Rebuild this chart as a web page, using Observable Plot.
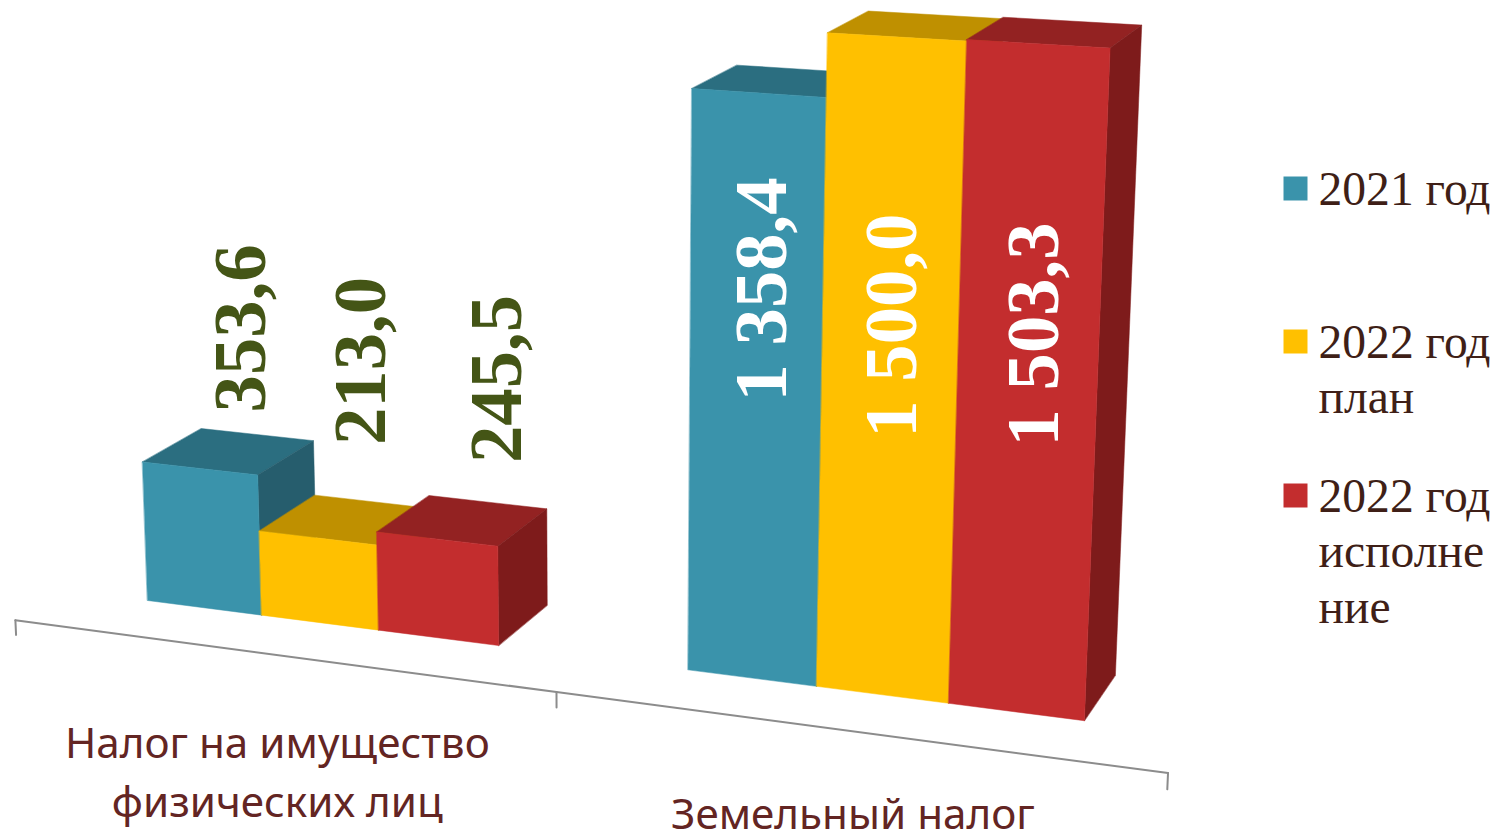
<!DOCTYPE html>
<html lang="ru">
<head>
<meta charset="utf-8">
<style>html,body{margin:0;padding:0;background:#fff;overflow:hidden}</style>
<script src="https://cdn.jsdelivr.net/npm/d3@7"></script>
<script src="https://cdn.jsdelivr.net/npm/@observablehq/plot@0.6"></script>
</head>
<body>
<div id="chart"></div>
<script>
const categories = ["Налог на имущество\nфизических лиц", "Земельный налог"];
const seriesNames = ["2021 год", "2022 год\nплан", "2022 год\nисполне\nние"];
const taxOnProperty = [353.6, 213.0, 245.5];
const landTax = [1358.4, 1500.0, 1503.3];
const frontColors = ["#3A93AB", "#FFC000", "#C32D2E"];
const topColors = ["#2B6E80", "#BF9000", "#932222"];
const sideColors = ["#265D6D", "#A68000", "#7E1B1B"];

// Perspective camera: world (slot u, value v, depth d) -> screen
const camera = {
  ox: 147, oy: 600,
  u: [110.7, 6.8, -0.01274],
  v: [605 * -3.06e-5, -0.406, -3.06e-5],
  d: [64.8, -18.9, 0.033]
};
function project(u, v, d) {
  const w = 1 + camera.u[2] * u + camera.v[2] * v + camera.d[2] * d;
  return {
    x: (camera.ox + camera.u[0] * u + camera.v[0] * v + camera.d[0] * d) / w,
    y: (camera.oy + camera.u[1] * u + camera.v[1] * v + camera.d[1] * d) / w
  };
}

const groupStart = [0, 4.525];
const axisDepth = -0.78;
const axisStart = -0.739, axisMid = 3.78, axisEnd = 8.29, tickValue = -37;
const seriesByGroup = [taxOnProperty, landTax];

const vertices = [];
function face(id, color, corners) {
  for (const [u, v, d] of corners) vertices.push({...project(u, v, d), id, color});
}
seriesByGroup.forEach((vals, g) => {
  vals.forEach((val, s) => {
    const u0 = groupStart[g] + s, u1 = u0 + 1;
    face(`t${g}${s}`, topColors[s], [[u0, val, 0], [u1, val, 0], [u1, val, 1], [u0, val, 1]]);
    face(`s${g}${s}`, sideColors[s], [[u1, 0, 0], [u1, val, 0], [u1, val, 1], [u1, 0, 1]]);
    face(`f${g}${s}`, frontColors[s], [[u0, 0, 0], [u1, 0, 0], [u1, val, 0], [u0, val, 0]]);
  });
});

const axisLine = [axisStart, axisMid, axisEnd].map(u => project(u, 0, axisDepth));
const ticks = [axisStart, axisMid, axisEnd].flatMap((u, i) => [
  {...project(u, 0, axisDepth), i},
  {...project(u, tickValue, axisDepth), i}
]);

const fmt = d3.formatLocale({decimal: ",", thousands: " ", grouping: [3], currency: ["", ""]}).format(",.1f");
const labelOffsets = [[[41.7, -140], [43.7, -177], [60, -160]], [[3.7, 196.5], [-5, 288.7], [-3.4, 290.6]]];
const labelColors = ["#445516", "#FFFFFF"];
const labelMarks = [];
seriesByGroup.forEach((vals, g) => vals.forEach((val, s) => {
  const p = project(groupStart[g] + s + 0.5, val, 0);
  labelMarks.push(Plot.text([{...p, t: fmt(val)}], {
    x: "x", y: "y", text: "t", rotate: -90, dx: labelOffsets[g][s][0], dy: labelOffsets[g][s][1],
    fill: labelColors[g], fontFamily: "Liberation Serif", fontWeight: "bold", fontSize: 74.7,
    textAnchor: "middle", lineAnchor: "middle"
  }));
}));

const catCenters = [(axisStart + axisMid) / 2, (axisMid + axisEnd) / 2];
const catOffsets = [[-0.5, 60.5], [0.5, 55]];
const catMarks = categories.map((c, i) => {
  const p = project(catCenters[i], 0, axisDepth);
  return Plot.text([{...p, t: c}], {
    x: "x", y: "y", text: "t", dx: catOffsets[i][0], dy: catOffsets[i][1],
    fill: "#632523", fontFamily: "Noto Sans", fontSize: 42.2, lineHeight: 1.41,
    textAnchor: "middle", lineAnchor: "top"
  });
});

// Legend
const legendX = 1295, legendTextX = 1318, legendY = [188, 341, 495];
const legendRows = seriesNames.map((name, i) => ({name, i, x: legendX, tx: legendTextX, y: legendY[i]}));

const chart = Plot.plot({
  width: 1498, height: 834, margin: 0,
  x: {domain: [0, 1498], range: [0, 1498], axis: null},
  y: {domain: [0, 834], range: [0, 834], axis: null},
  style: {background: "#fff"},
  marks: [
    Plot.line(axisLine, {x: "x", y: "y", stroke: "#8C8C8C", strokeWidth: 2}),
    Plot.line(ticks, {x: "x", y: "y", z: "i", stroke: "#8C8C8C", strokeWidth: 2}),
    Plot.line(vertices, {x: "x", y: "y", z: "id", fill: "color", stroke: "color", strokeWidth: 0.5, curve: "linear-closed"}),
    ...labelMarks,
    ...catMarks,
    Plot.dot(legendRows, {x: "x", y: "y", symbol: "square", r: 13.54, fill: d => frontColors[d.i], stroke: null}),
    Plot.text(legendRows, {x: "tx", y: "y", text: "name", fill: "#3F1F17", fontFamily: "Liberation Serif", fontSize: 47.6, lineHeight: 1.17, textAnchor: "start", lineAnchor: "top", dy: -23.5})
  ]
});
document.getElementById("chart").append(chart);
</script>
</body>
</html>
